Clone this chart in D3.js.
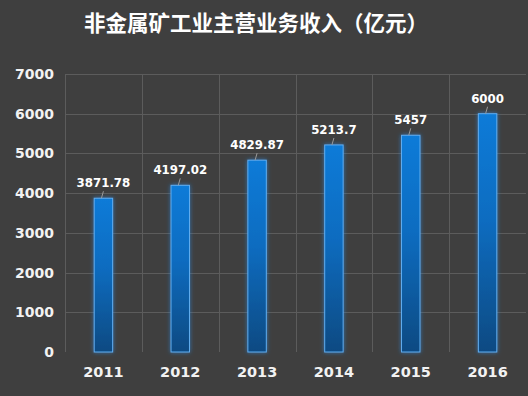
<!DOCTYPE html>
<meta charset="utf-8">
<style>
body { margin: 0; background: #3f3f3f; }
text { font-family: "DejaVu Sans", sans-serif; font-weight: bold; }
.grid line { stroke: #5c5c5c; stroke-width: 1; }
.axis text { fill: #f2f2f2; font-size: 14px; }
.label { fill: #ffffff; font-size: 11.8px; text-anchor: middle; }
</style>
<body>
<script src="https://cdn.jsdelivr.net/npm/d3@7"></script>
<script>

var years = ["2011", "2012", "2013", "2014", "2015", "2016"];
var revenue = [3871.78, 4197.02, 4829.87, 5213.7, 5457, 6000];
var valueLabels = ["3871.78", "4197.02", "4829.87", "5213.7", "5457", "6000"];
var yTicks = [0, 1000, 2000, 3000, 4000, 5000, 6000, 7000];

var width = 528,
    height = 396,
    margin = {top: 74, right: 2, bottom: 44, left: 65};

var svg = d3.select("body").append("svg")
    .attr("width", width)
    .attr("height", height);

svg.append("rect")
    .attr("width", width)
    .attr("height", height)
    .attr("fill", "#3f3f3f");

var defs = svg.append("defs");
var grad = defs.append("linearGradient")
    .attr("id", "barGrad")
    .attr("x1", 0).attr("y1", 0).attr("x2", 0).attr("y2", 1);
grad.append("stop").attr("offset", "0%").attr("stop-color", "#0a7bd8");
grad.append("stop").attr("offset", "45%").attr("stop-color", "#0a6cc0");
grad.append("stop").attr("offset", "100%").attr("stop-color", "#0a4a82");

var glow = defs.append("filter")
    .attr("id", "glow")
    .attr("x", "-50%").attr("y", "-10%").attr("width", "200%").attr("height", "120%");
glow.append("feGaussianBlur").attr("in", "SourceAlpha").attr("stdDeviation", 2).attr("result", "b");
glow.append("feFlood").attr("flood-color", "#2a8ae6").attr("flood-opacity", 0.7);
glow.append("feComposite").attr("in2", "b").attr("operator", "in").attr("result", "g");
var merge = glow.append("feMerge");
merge.append("feMergeNode").attr("in", "g");
merge.append("feMergeNode").attr("in", "SourceGraphic");

var x = d3.scaleBand()
    .domain(years)
    .range([margin.left, width - margin.right])
    .paddingInner(0.76)
    .paddingOuter(0.38);

var band = d3.scaleBand()
    .domain(years)
    .range([margin.left, width - margin.right]);

var y = d3.scaleLinear()
    .domain([0, 7000])
    .range([height - margin.bottom, margin.top]);

// grid
var grid = svg.append("g").attr("class", "grid");
grid.selectAll(".h").data(yTicks.slice(1)).enter().append("line")
    .attr("x1", margin.left).attr("x2", width - margin.right)
    .attr("y1", function(d) { return Math.round(y(d)) + 0.5; })
    .attr("y2", function(d) { return Math.round(y(d)) + 0.5; });
grid.selectAll(".v").data(years).enter().append("line")
    .attr("y1", y(7000)).attr("y2", y(0))
    .attr("x1", function(d) { return Math.round(band(d)) + 0.5; })
    .attr("x2", function(d) { return Math.round(band(d)) + 0.5; });

// axes
var yAxis = svg.append("g")
    .attr("class", "axis")
    .attr("transform", "translate(" + (margin.left - 11) + ",0)")
    .call(d3.axisLeft(y).tickValues(yTicks).tickFormat(d3.format("d")).tickSize(0).tickPadding(0));
yAxis.select(".domain").remove();

var xAxis = svg.append("g")
    .attr("class", "axis")
    .attr("transform", "translate(0," + (height - margin.bottom) + ")")
    .call(d3.axisBottom(band).tickSize(0).tickPadding(15));
xAxis.select(".domain").remove();
xAxis.selectAll("text").style("font-size", "14.5px");

// bars
svg.selectAll(".bar").data(revenue).enter().append("rect")
    .attr("class", "bar")
    .attr("x", function(d, i) { return x(years[i]); })
    .attr("y", function(d) { return y(d); })
    .attr("width", x.bandwidth())
    .attr("height", function(d) { return y(0) - y(d); })
    .attr("fill", "url(#barGrad)")
    .attr("stroke", "#62aef0")
    .attr("stroke-width", 1)
    .attr("filter", "url(#glow)");

// leader lines
svg.selectAll(".leader").data(revenue).enter().append("line")
    .attr("x1", function(d, i) { return x(years[i]) + x.bandwidth() / 2; })
    .attr("x2", function(d, i) { return x(years[i]) + x.bandwidth() / 2 - 2; })
    .attr("y1", function(d) { return y(d) - 7; })
    .attr("y2", function(d) { return y(d); })
    .attr("stroke", "#9a9a9a")
    .attr("stroke-width", 1);

// value labels
svg.selectAll(".label").data(revenue).enter().append("text")
    .attr("class", "label")
    .attr("x", function(d, i) { return x(years[i]) + x.bandwidth() / 2; })
    .attr("y", function(d) { return y(d) - 11; })
    .text(function(d, i) { return valueLabels[i]; });

// title
svg.append("text")
    .attr("x", 256)
    .attr("y", 31)
    .attr("text-anchor", "middle")
    .attr("fill", "#ffffff")
    .style("font-family", "'Noto Sans CJK SC', sans-serif")
    .style("font-size", "21.5px")
    .style("font-weight", "bold")
    .text("非金属矿工业主营业务收入（亿元）");

</script>
</body>
</html>
